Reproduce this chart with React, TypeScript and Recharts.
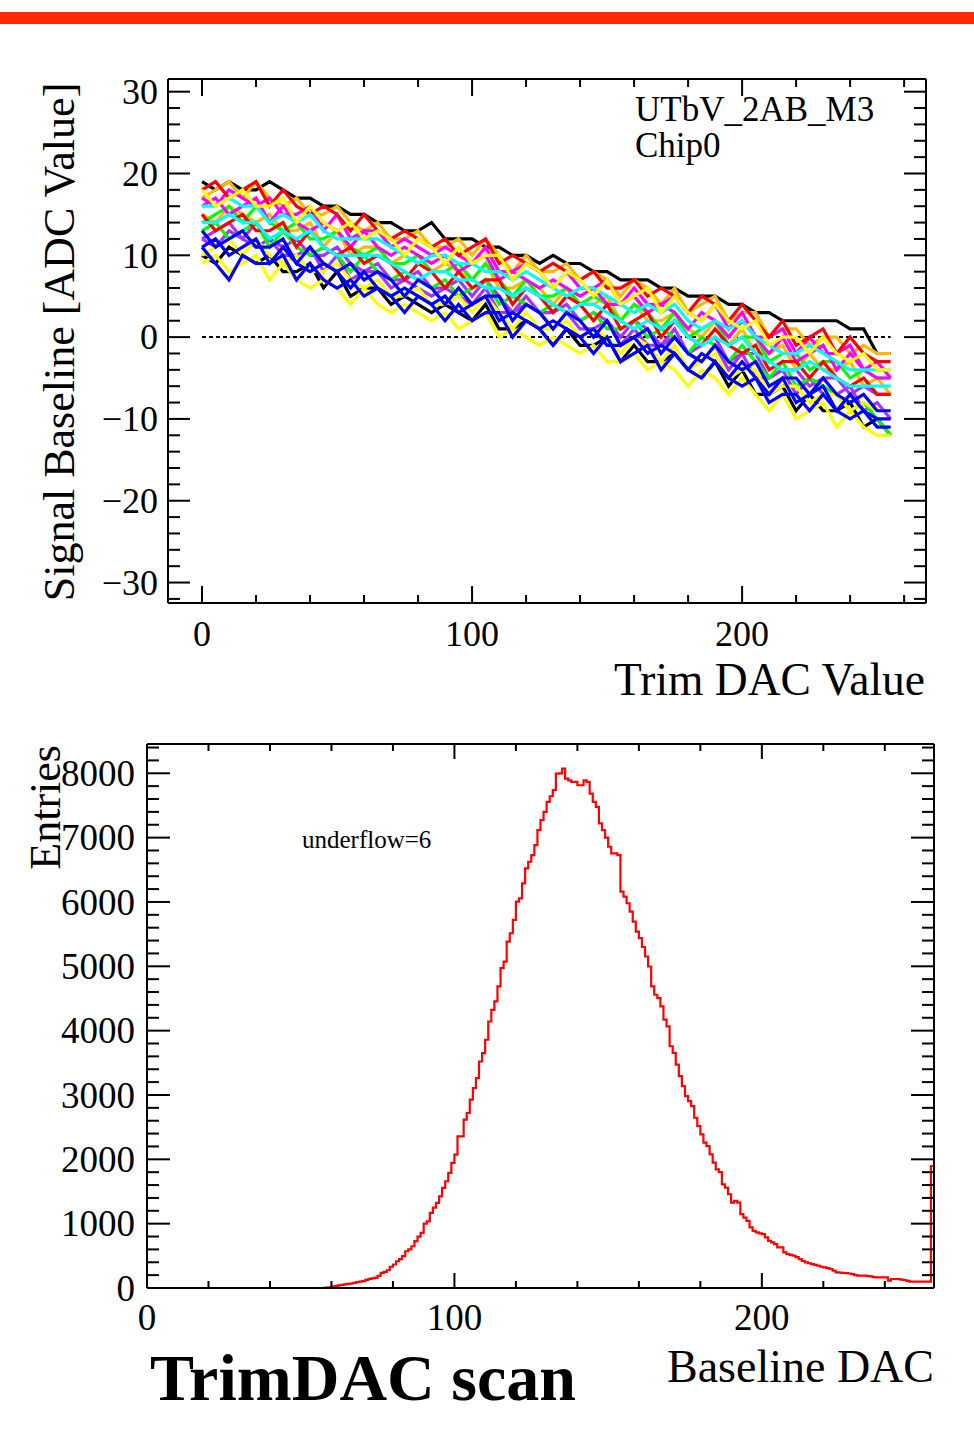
import React from 'react';
import { LineChart, Line, XAxis, YAxis, ReferenceLine } from 'recharts';

const FONT = '"Liberation Serif", "Times New Roman", Times, serif';

// ---------------- Top chart: signal baseline vs trim DAC, one line per channel ----------------
const trimDac = [0, 5, 10, 15, 20, 25, 30, 35, 40, 45, 50, 55, 60, 65, 70, 75, 80, 85, 90, 95, 100, 105, 110, 115, 120, 125, 130, 135, 140, 145, 150, 155, 160, 165, 170, 175, 180, 185, 190, 195, 200, 205, 210, 215, 220, 225, 230, 235, 240, 245, 250, 255];

const blk1 = [19, 18, 19, 18, 18, 19, 18, 17, 17, 16, 16, 15, 15, 14, 14, 13, 13, 14, 12, 12, 12, 11, 11, 10, 10, 9, 10, 9, 9, 8, 8, 7, 7, 7, 6, 6, 5, 5, 5, 4, 4, 3, 3, 2, 2, 2, 2, 2, 1, 1, -2, -2];
const blk2 = [10, 9, 11, 10, 9, 10, 8, 8, 9, 6, 8, 5, 6, 6, 4, 5, 4, 3, 4, 3, 2, 4, 1, 1, 2, 1, -1, 1, -1, -1, 0, -3, -1, -3, -3, -2, -4, -5, -3, -6, -4, -7, -7, -6, -9, -7, -9, -9, -8, -11, -10, -12];
const vio1 = [12, 13, 14, 12, 14, 12, 11, 12, 10, 10, 11, 9, 8, 9, 7, 7, 8, 6, 6, 7, 5, 7, 5, 3, 5, 3, 3, 4, 2, 3, 2, 0, 2, 1, -1, 1, -2, -1, 0, -3, -2, -2, -5, -4, -4, -6, -5, -5, -7, -6, -7, -7];
const vio2 = [12, 11, 13, 12, 11, 12, 10, 10, 11, 8, 10, 7, 8, 8, 6, 7, 6, 5, 6, 5, 4, 6, 3, 3, 4, 3, 1, 3, 1, 1, 2, -1, 1, -1, -1, 0, -2, -3, -1, -4, -2, -5, -5, -4, -7, -5, -7, -7, -6, -9, -8, -10];
const org1 = [15, 14, 16, 15, 14, 15, 13, 13, 14, 11, 13, 10, 11, 11, 9, 10, 9, 8, 9, 8, 7, 9, 6, 6, 7, 6, 4, 6, 4, 4, 5, 2, 4, 2, 2, 3, 1, 0, 2, -1, 1, -2, -2, -1, -4, -2, -4, -4, -3, -6, -5, -7];
const org2 = [17, 18, 19, 17, 19, 17, 16, 17, 15, 15, 16, 14, 13, 14, 12, 12, 13, 11, 11, 12, 10, 12, 10, 8, 10, 8, 8, 9, 7, 8, 7, 5, 7, 6, 4, 6, 3, 4, 5, 2, 3, 3, 0, 1, 1, -1, 0, 0, -2, -1, -2, -2];
const grn1 = [13, 14, 12, 13, 14, 11, 13, 11, 10, 11, 10, 8, 10, 8, 7, 8, 7, 6, 7, 5, 6, 7, 4, 5, 4, 3, 4, 3, 2, 3, 1, 1, 2, 0, 1, 0, -2, 0, -1, -3, -1, -3, -5, -3, -6, -5, -6, -7, -9, -8, -10, -12];
const grn2 = [14, 15, 16, 14, 16, 14, 13, 14, 12, 12, 13, 11, 10, 11, 9, 9, 10, 8, 8, 9, 7, 9, 7, 5, 7, 5, 5, 6, 4, 5, 4, 2, 4, 3, 1, 3, 0, 1, 2, -1, 0, 0, -3, -2, -2, -4, -3, -3, -5, -4, -5, -5];
const mag1 = [17, 16, 18, 17, 16, 17, 15, 15, 16, 13, 15, 12, 13, 13, 11, 12, 11, 10, 11, 10, 9, 11, 8, 8, 9, 8, 6, 8, 6, 6, 7, 4, 6, 4, 4, 5, 3, 2, 4, 1, 3, 0, 0, 1, -2, 0, -2, -2, -1, -4, -3, -5];
const mag2 = [16, 17, 15, 16, 17, 14, 16, 14, 13, 14, 13, 11, 13, 11, 10, 11, 10, 9, 10, 8, 9, 10, 7, 8, 7, 6, 7, 6, 5, 6, 4, 4, 5, 3, 4, 3, 1, 3, 2, 0, 2, 0, -2, 0, -3, -2, -1, -4, -2, -4, -5, -5];
const red1 = [18, 19, 17, 18, 19, 16, 18, 16, 15, 16, 15, 13, 15, 13, 12, 13, 12, 11, 12, 10, 11, 12, 9, 10, 9, 8, 9, 8, 7, 8, 6, 6, 7, 5, 6, 5, 3, 5, 4, 2, 4, 2, 0, 2, -1, 0, 1, -2, 0, -2, -3, -3];
const red2 = [15, 13, 14, 15, 13, 13, 14, 11, 13, 11, 10, 11, 9, 10, 9, 7, 9, 8, 6, 8, 6, 7, 7, 4, 6, 5, 3, 5, 4, 2, 4, 1, 2, 3, 0, 2, 0, -1, 1, -1, -2, -1, -4, -3, -3, -5, -3, -5, -6, -5, -7, -7];
const cyn1 = [16, 16, 17, 16, 16, 14, 15, 14, 15, 13, 12, 12, 12, 12, 11, 10, 9, 10, 10, 9, 9, 8, 8, 7, 8, 7, 6, 5, 6, 6, 5, 4, 3, 4, 3, 4, 2, 1, 2, 1, 2, 0, -1, -2, -2, -1, -2, -3, -4, -4, -4, -4];
const cyn2 = [14, 14, 15, 14, 14, 12, 13, 12, 13, 11, 10, 10, 10, 10, 9, 8, 7, 8, 8, 7, 7, 6, 6, 5, 6, 5, 4, 3, 4, 4, 3, 2, 1, 2, 1, 2, 0, -1, 0, -1, 0, -2, -3, -4, -4, -3, -4, -5, -6, -6, -6, -6];
const yel1 = [18, 16, 17, 18, 16, 16, 17, 14, 16, 14, 13, 14, 12, 13, 12, 10, 12, 11, 9, 11, 9, 10, 10, 7, 9, 8, 6, 8, 7, 5, 7, 4, 5, 6, 3, 5, 3, 2, 4, 2, 1, 2, -1, 0, 0, -2, 0, -2, -3, -2, -4, -4];
const yel2 = [10, 11, 12, 10, 12, 10, 9, 10, 8, 8, 9, 7, 6, 7, 5, 5, 6, 4, 4, 5, 3, 5, 3, 1, 3, 1, 1, 2, 0, 1, 0, -2, 0, -1, -3, -1, -4, -3, -2, -5, -4, -4, -7, -6, -6, -8, -7, -7, -9, -8, -9, -9];
const yel3 = [9, 10, 8, 9, 10, 7, 9, 7, 6, 7, 6, 4, 6, 4, 3, 4, 3, 2, 3, 1, 2, 3, 0, 1, 0, -1, 0, -1, -2, -1, -3, -3, -2, -4, -3, -4, -6, -4, -5, -7, -5, -7, -9, -7, -10, -9, -8, -11, -9, -11, -12, -12];
const blu1 = [13, 11, 12, 13, 11, 11, 12, 9, 11, 9, 8, 9, 7, 8, 7, 5, 7, 6, 4, 6, 4, 5, 5, 2, 4, 3, 1, 3, 2, 0, 2, -1, 0, 1, -2, 0, -2, -3, -1, -3, -4, -3, -6, -5, -5, -7, -5, -7, -8, -7, -9, -9];
const blu2 = [11, 9, 7, 10, 9, 9, 10, 7, 9, 7, 6, 7, 5, 6, 5, 3, 5, 4, 2, 4, 2, 3, 3, 0, 2, 1, -1, 1, 0, -2, 0, -3, -2, -1, -4, -2, -4, -5, -3, -5, -6, -5, -8, -7, -7, -9, -7, -9, -10, -9, -11, -11];
const blu3 = [11, 12, 10, 11, 12, 9, 11, 9, 8, 9, 8, 6, 8, 6, 5, 6, 5, 4, 5, 3, 4, 5, 2, 3, 2, 1, 2, 1, 0, 1, -1, -1, 0, -2, -1, -2, -4, -2, -3, -5, -3, -5, -7, -5, -8, -7, -6, -9, -7, -9, -10, -10];

const channelSeries = [
  { key: 'blk1', color: '#000000', values: blk1 },
  { key: 'blk2', color: '#000000', values: blk2 },
  { key: 'vio1', color: '#a833ff', values: vio1 },
  { key: 'vio2', color: '#a833ff', values: vio2 },
  { key: 'org1', color: '#ffbb00', values: org1 },
  { key: 'org2', color: '#ffbb00', values: org2 },
  { key: 'grn1', color: '#00ff00', values: grn1 },
  { key: 'grn2', color: '#00ff00', values: grn2 },
  { key: 'mag1', color: '#ff00ff', values: mag1 },
  { key: 'mag2', color: '#ff00ff', values: mag2 },
  { key: 'red1', color: '#ff0000', values: red1 },
  { key: 'red2', color: '#ff0000', values: red2 },
  { key: 'cyn1', color: '#00ffff', values: cyn1 },
  { key: 'cyn2', color: '#00ffff', values: cyn2 },
  { key: 'yel1', color: '#ffff00', values: yel1 },
  { key: 'yel2', color: '#ffff00', values: yel2 },
  { key: 'yel3', color: '#ffff00', values: yel3 },
  { key: 'blu1', color: '#0000ff', values: blu1 },
  { key: 'blu2', color: '#0000ff', values: blu2 },
  { key: 'blu3', color: '#0000ff', values: blu3 },
];

const topXTicks = [0, 20, 40, 60, 80, 100, 120, 140, 160, 180, 200, 220, 240, 260];
const topYTicks = [-32, -30, -28, -26, -24, -22, -20, -18, -16, -14, -12, -10, -8, -6, -4, -2, 0, 2, 4, 6, 8, 10, 12, 14, 16, 18, 20, 22, 24, 26, 28, 30];
const topXDomain = [-12.6, 268.1];
const topYDomain = [-32.5, 31.55];

// ---------------- Bottom chart: histogram of baseline DAC ----------------
const baselineCounts = [
  0, 0, 0, 0, 0, 0, 0, 0, 0, 0, 0, 0, 0, 0, 0, 0,
  0, 0, 0, 0, 0, 0, 0, 0, 0, 0, 0, 0, 0, 0, 0, 0,
  0, 0, 0, 0, 0, 0, 0, 0, 0, 0, 0, 0, 0, 0, 0, 0,
  0, 0, 0, 0, 0, 0, 0, 0, 0, 0, 5, 10, 20, 30, 40, 50,
  55, 65, 70, 80, 90, 100, 106, 125, 143, 150, 158, 190, 236, 250, 276, 330,
  365, 416, 450, 494, 571, 600, 649, 727, 800, 857, 1001, 1037, 1168, 1250, 1323, 1425,
  1556, 1659, 1789, 1944, 2073, 2357, 2357, 2616, 2720, 2927, 3108, 3263, 3520, 3651, 3858, 4142,
  4324, 4454, 4687, 4972, 5074, 5385, 5514, 5721, 6005, 6057, 6290, 6522, 6625, 6729, 6884, 7116,
  7271, 7400, 7555, 7643, 7737, 7995, 8000, 8073, 7918, 7890, 7865, 7865, 7814, 7814, 7891, 7865,
  7685, 7555, 7478, 7220, 7116, 7000, 6858, 6755, 6755, 6729, 6160, 6082, 5980, 5850, 5695, 5540,
  5437, 5300, 5152, 4997, 4687, 4558, 4506, 4377, 4171, 4067, 3757, 3654, 3473, 3292, 3137, 2982,
  2904, 2826, 2646, 2516, 2388, 2259, 2206, 2078, 1949, 1845, 1800, 1612, 1561, 1457, 1328, 1353,
  1328, 1147, 1095, 1044, 941, 888, 863, 850, 837, 786, 733, 708, 682, 631, 631, 553,
  527, 515, 501, 480, 450, 420, 398, 385, 372, 360, 346, 330, 320, 310, 295, 270,
  243, 240, 235, 232, 225, 217, 200, 191, 191, 191, 185, 181, 170, 165, 165, 165,
  165, 114, 140, 140, 140, 130, 124, 110, 98, 98, 98, 98, 98, 98, 98, 1896,
];
const histXTicks = [0, 20, 40, 60, 80, 100, 120, 140, 160, 180, 200, 220, 240];
const histYTicks = [0, 200, 400, 600, 800, 1000, 1200, 1400, 1600, 1800, 2000, 2200, 2400, 2600, 2800, 3000, 3200, 3400, 3600, 3800, 4000, 4200, 4400, 4600, 4800, 5000, 5200, 5400, 5600, 5800, 6000, 6200, 6400, 6600, 6800, 7000, 7200, 7400, 7600, 7800, 8000, 8200, 8400];
const histXDomain = [0, 256];
const histYDomain = [0, 8455];

// ---------------- derived tables ----------------
const topRows = trimDac.map((x, i) => {
  const row: Record<string, number> = { x };
  channelSeries.forEach((s) => {
    row[s.key] = s.values[i];
  });
  return row;
});

const histRows = baselineCounts.map((n, i) => ({ bin: i, n }));
histRows.push({ bin: baselineCounts.length, n: baselineCounts[baselineCounts.length - 1] });

// ---------------- layout ----------------
const TOP = { w: 974, h: 720, left: 168, right: 926, top: 79, bottom: 603 };
const BOT = { w: 974, h: 721, offsetY: 720, left: 147, right: 934, top: 24, bottom: 568 };
const AX = 1; // axis box thickness

const fmt = (v: number) => (v < 0 ? '\u2212' + Math.abs(v) : String(v));

const makeXTick = (edgeY: number, dir: number, majorLen: number, minorLen: number, labelY: number | null, fontSize: number) =>
  (props: any) => {
    const { x, payload } = props;
    const v = payload.value;
    const major = v % 100 === 0;
    const len = major ? majorLen : minorLen;
    return (
      <g>
        <line x1={x} x2={x} y1={edgeY} y2={edgeY + dir * len} stroke="#000" strokeWidth={2} />
        {major && labelY !== null ? (
          <text x={x} y={labelY} textAnchor="middle" fontFamily={FONT} fontSize={fontSize} fill="#000">
            {fmt(v)}
          </text>
        ) : null}
      </g>
    );
  };

const makeYTick = (edgeX: number, dir: number, majorEvery: number, majorLen: number, minorLen: number, labelX: number | null, fontSize: number) =>
  (props: any) => {
    const { y, payload } = props;
    const v = payload.value;
    const major = Math.abs(v % majorEvery) === 0;
    const len = major ? majorLen : minorLen;
    return (
      <g>
        <line x1={edgeX} x2={edgeX + dir * len} y1={y} y2={y} stroke="#000" strokeWidth={2} />
        {major && labelX !== null ? (
          <text x={labelX} y={y + fontSize * 0.34} textAnchor="end" fontFamily={FONT} fontSize={fontSize} fill="#000">
            {fmt(v)}
          </text>
        ) : null}
      </g>
    );
  };

const axisLine = { stroke: '#000', strokeWidth: 2 };

function TopChart() {
  return (
    <LineChart
      width={TOP.w}
      height={TOP.h}
      data={topRows}
      margin={{ top: TOP.top - AX, left: TOP.left - AX, right: TOP.w - TOP.right - AX, bottom: TOP.h - TOP.bottom - AX }}
    >
      <XAxis dataKey="x" type="number" domain={topXDomain} allowDataOverflow ticks={topXTicks} interval={0}
        height={AX} axisLine={axisLine} tickLine={false}
        tick={makeXTick(TOP.bottom, -1, 17, 8, TOP.bottom + 43, 36)} />
      <XAxis xAxisId="top" orientation="top" dataKey="x" type="number" domain={topXDomain} allowDataOverflow
        ticks={topXTicks} interval={0} height={AX} axisLine={axisLine} tickLine={false}
        tick={makeXTick(TOP.top, 1, 17, 8, null, 36)} />
      <YAxis type="number" domain={topYDomain} allowDataOverflow ticks={topYTicks} interval={0} width={AX}
        axisLine={axisLine} tickLine={false}
        tick={makeYTick(TOP.left, 1, 10, 22, 12, TOP.left - 10, 36)} />
      <YAxis yAxisId="right" orientation="right" type="number" domain={topYDomain} allowDataOverflow ticks={topYTicks}
        interval={0} width={AX} axisLine={axisLine} tickLine={false}
        tick={makeYTick(TOP.right, -1, 10, 22, 12, null, 36)} />
      <ReferenceLine segment={[{ x: 0, y: 0 }, { x: 255, y: 0 }]} stroke="#000" strokeWidth={2} strokeDasharray="4 3" />
      {channelSeries.map((s) => (
        <Line key={s.key} dataKey={s.key} type="linear" stroke={s.color} strokeWidth={3.2}
          dot={false} activeDot={false} isAnimationActive={false} />
      ))}
    </LineChart>
  );
}

function HistChart() {
  return (
    <LineChart
      width={BOT.w}
      height={BOT.h}
      data={histRows}
      margin={{ top: BOT.top - AX, left: BOT.left - AX, right: BOT.w - BOT.right - AX, bottom: BOT.h - BOT.bottom - AX }}
    >
      <XAxis dataKey="bin" type="number" domain={histXDomain} allowDataOverflow ticks={histXTicks} interval={0}
        height={AX} axisLine={axisLine} tickLine={false}
        tick={makeXTick(BOT.bottom, -1, 15, 7, BOT.bottom + 42, 37)} />
      <XAxis xAxisId="top" orientation="top" dataKey="bin" type="number" domain={histXDomain} allowDataOverflow
        ticks={histXTicks} interval={0} height={AX} axisLine={axisLine} tickLine={false}
        tick={makeXTick(BOT.top, 1, 15, 7, null, 37)} />
      <YAxis type="number" domain={histYDomain} allowDataOverflow ticks={histYTicks} interval={0} width={AX}
        axisLine={axisLine} tickLine={false}
        tick={makeYTick(BOT.left, 1, 1000, 23, 12, BOT.left - 12, 37)} />
      <YAxis yAxisId="right" orientation="right" type="number" domain={histYDomain} allowDataOverflow ticks={histYTicks}
        interval={0} width={AX} axisLine={axisLine} tickLine={false}
        tick={makeYTick(BOT.right, -1, 1000, 23, 12, null, 37)} />
      <Line dataKey="n" type="stepAfter" stroke="#ff0000" strokeWidth={2.2} dot={false} activeDot={false}
        isAnimationActive={false} />
    </LineChart>
  );
}

export default function App() {
  return (
    <div style={{ position: 'absolute', left: 0, top: 0, width: 974, height: 1441, background: '#fff', overflow: 'hidden' }}>
      <div style={{ position: 'absolute', left: 0, top: 0, width: TOP.w, height: TOP.h }}>
        <TopChart />
      </div>
      <div style={{ position: 'absolute', left: 0, top: BOT.offsetY, width: BOT.w, height: BOT.h }}>
        <HistChart />
      </div>
      <svg width={974} height={1441} style={{ position: 'absolute', left: 0, top: 0, pointerEvents: 'none' }}
        fontFamily={FONT} fill="#000">
        <rect x={0} y={12} width={974} height={12} fill="#ff2a00" />
        <text x={635} y={121} fontSize={35}>UTbV_2AB_M3</text>
        <text x={635} y={157} fontSize={35}>Chip0</text>
        <text transform="translate(74,342) rotate(-90)" textAnchor="middle" fontSize={44}>Signal Baseline [ADC Value]</text>
        <text x={925} y={695} textAnchor="end" fontSize={45.5}>Trim DAC Value</text>
        <text transform="translate(60,745) rotate(-90)" textAnchor="end" fontSize={44}>Entries</text>
        <text x={302} y={848} fontSize={25}>underflow=6</text>
        <text x={934} y={1382} textAnchor="end" fontSize={46}>Baseline DAC</text>
        <text x={150} y={1400} fontSize={66} fontWeight="bold">TrimDAC scan</text>
      </svg>
    </div>
  );
}
